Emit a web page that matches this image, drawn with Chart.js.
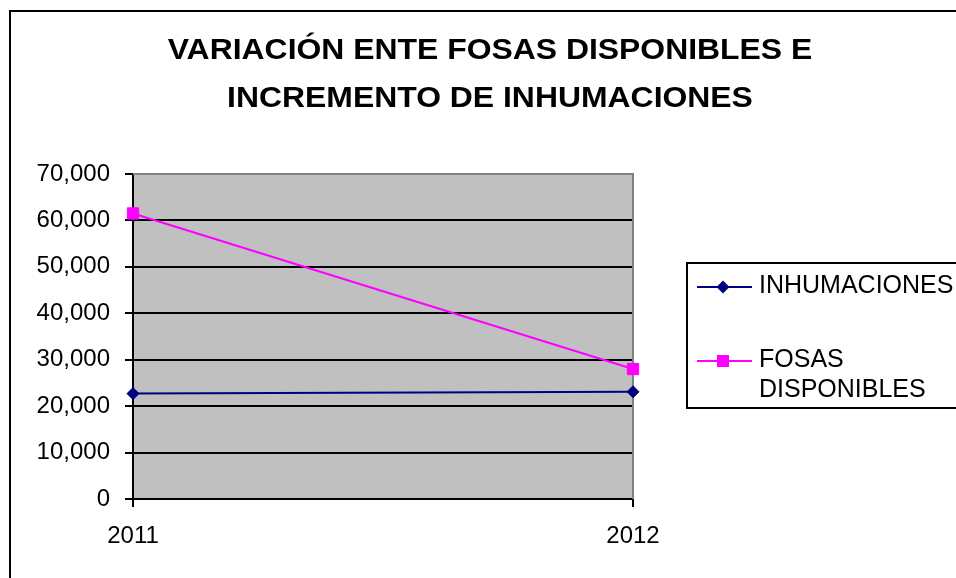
<!DOCTYPE html>
<html>
<head>
<meta charset="utf-8">
<script src="https://cdn.jsdelivr.net/npm/chart.js@4/dist/chart.umd.min.js"></script>
<style>
  html, body { margin: 0; padding: 0; background: #ffffff; }
  #grafico { display: block; }
</style>
</head>
<body>
<canvas id="grafico" width="956" height="578"></canvas>
<script>
// Datos del gráfico
var anios = ['2011', '2012'];
var inhumaciones = [22700, 23100];
var fosasDisponibles = [61500, 28000];
var tituloLineas = ['VARIACIÓN ENTE FOSAS DISPONIBLES E', 'INCREMENTO DE INHUMACIONES'];
var etiquetaInhumaciones = ['INHUMACIONES'];
var etiquetaFosas = ['FOSAS', 'DISPONIBLES'];

// Fondo gris del área de trazado, borde exterior y título
var fondoPlugin = {
    id: 'fondo',
    beforeDraw: function(chart) {
        var ctx = chart.ctx;
        var a = chart.chartArea;
        ctx.save();
        ctx.fillStyle = '#ffffff';
        ctx.fillRect(0, 0, chart.width, chart.height);
        ctx.fillStyle = '#c0c0c0';
        ctx.fillRect(a.left, a.top, a.right - a.left, a.bottom - a.top);
        // borde exterior
        ctx.strokeStyle = '#000000';
        ctx.lineWidth = 2;
        ctx.strokeRect(10, 11, chart.width + 20, chart.height + 20);
        // título
        ctx.fillStyle = '#000000';
        ctx.font = 'bold 29px "Liberation Sans", Arial, sans-serif';
        ctx.textAlign = 'center';
        ctx.textBaseline = 'alphabetic';
        var bases = [59, 107];
        tituloLineas.forEach(function(linea, i) {
            ctx.save();
            ctx.translate(490, bases[i]);
            ctx.scale(1.1, 1);
            ctx.fillText(linea, 0, 0);
            ctx.restore();
        });
        ctx.restore();
    },
    beforeDatasetsDraw: function(chart) {
        var ctx = chart.ctx;
        var a = chart.chartArea;
        ctx.save();
        ctx.strokeStyle = '#808080';
        ctx.lineWidth = 2;
        ctx.beginPath();
        ctx.moveTo(a.left, a.top);
        ctx.lineTo(a.right, a.top);
        ctx.lineTo(a.right, a.bottom);
        ctx.stroke();
        ctx.restore();
    }
};

// Leyenda con recuadro a la derecha
var leyendaPlugin = {
    id: 'leyendaCaja',
    afterDraw: function(chart) {
        var ctx = chart.ctx;
        ctx.save();
        ctx.strokeStyle = '#000000';
        ctx.lineWidth = 2;
        ctx.strokeRect(687, 263, 290, 145);
        ctx.font = '25px "Liberation Sans", Arial, sans-serif';
        ctx.textAlign = 'left';
        ctx.textBaseline = 'alphabetic';
        var filas = [287, 361];
        chart.data.datasets.forEach(function(ds, i) {
            var y = filas[i];
            ctx.strokeStyle = ds.borderColor;
            ctx.lineWidth = 2;
            ctx.beginPath();
            ctx.moveTo(697, y);
            ctx.lineTo(752, y);
            ctx.stroke();
            ctx.fillStyle = ds.backgroundColor;
            ctx.beginPath();
            if (ds.pointStyle === 'rectRot') {
                ctx.moveTo(723 - 6.5, y);
                ctx.lineTo(723, y - 6.5);
                ctx.lineTo(723 + 6.5, y);
                ctx.lineTo(723, y + 6.5);
                ctx.closePath();
            } else {
                ctx.rect(723 - 6, y - 6, 12, 12);
            }
            ctx.fill();
            ctx.fillStyle = '#000000';
            ds.label.forEach(function(t, j) {
                ctx.fillText(t, 759, y + 6 + j * 30);
            });
        });
        ctx.restore();
    }
};

new Chart(document.getElementById('grafico').getContext('2d'), {
    type: 'line',
    data: {
        labels: anios,
        datasets: [{
            label: etiquetaInhumaciones,
            data: inhumaciones,
            borderColor: '#000080',
            backgroundColor: '#000080',
            borderWidth: 2,
            pointStyle: 'rectRot',
            pointRadius: 6,
            pointBorderWidth: 1,
            tension: 0
        }, {
            label: etiquetaFosas,
            data: fosasDisponibles,
            borderColor: '#ff00ff',
            backgroundColor: '#ff00ff',
            borderWidth: 2,
            pointStyle: 'rect',
            pointRadius: 8,
            pointBorderWidth: 1,
            tension: 0
        }]
    },
    options: {
        responsive: false,
        animation: false,
        devicePixelRatio: 1,
        layout: {
            padding: { left: 0, right: 323, top: 174, bottom: 0 }
        },
        plugins: {
            legend: { display: false },
            title: { display: false },
            tooltip: { enabled: false }
        },
        scales: {
            x: {
                type: 'category',
                offset: false,
                afterFit: function(scale) { scale.height = 79; },
                grid: {
                    display: true,
                    drawOnChartArea: false,
                    drawTicks: true,
                    tickLength: 8,
                    color: '#000000',
                    lineWidth: 2
                },
                border: { display: true, color: '#000000', width: 2 },
                ticks: {
                    color: '#000000',
                    padding: 15,
                    maxRotation: 0,
                    font: { family: '"Liberation Sans", Arial, sans-serif', size: 24 }
                }
            },
            y: {
                min: 0,
                max: 70000,
                afterFit: function(scale) { scale.width = 133; },
                grid: {
                    color: '#000000',
                    lineWidth: 2,
                    tickLength: 8
                },
                border: { display: true, color: '#000000', width: 2 },
                ticks: {
                    stepSize: 10000,
                    color: '#000000',
                    padding: 15,
                    font: { family: '"Liberation Sans", Arial, sans-serif', size: 24 },
                    callback: function(v) { return v.toLocaleString('en-US'); }
                }
            }
        }
    },
    plugins: [fondoPlugin, leyendaPlugin]
});
</script>
</body>
</html>
